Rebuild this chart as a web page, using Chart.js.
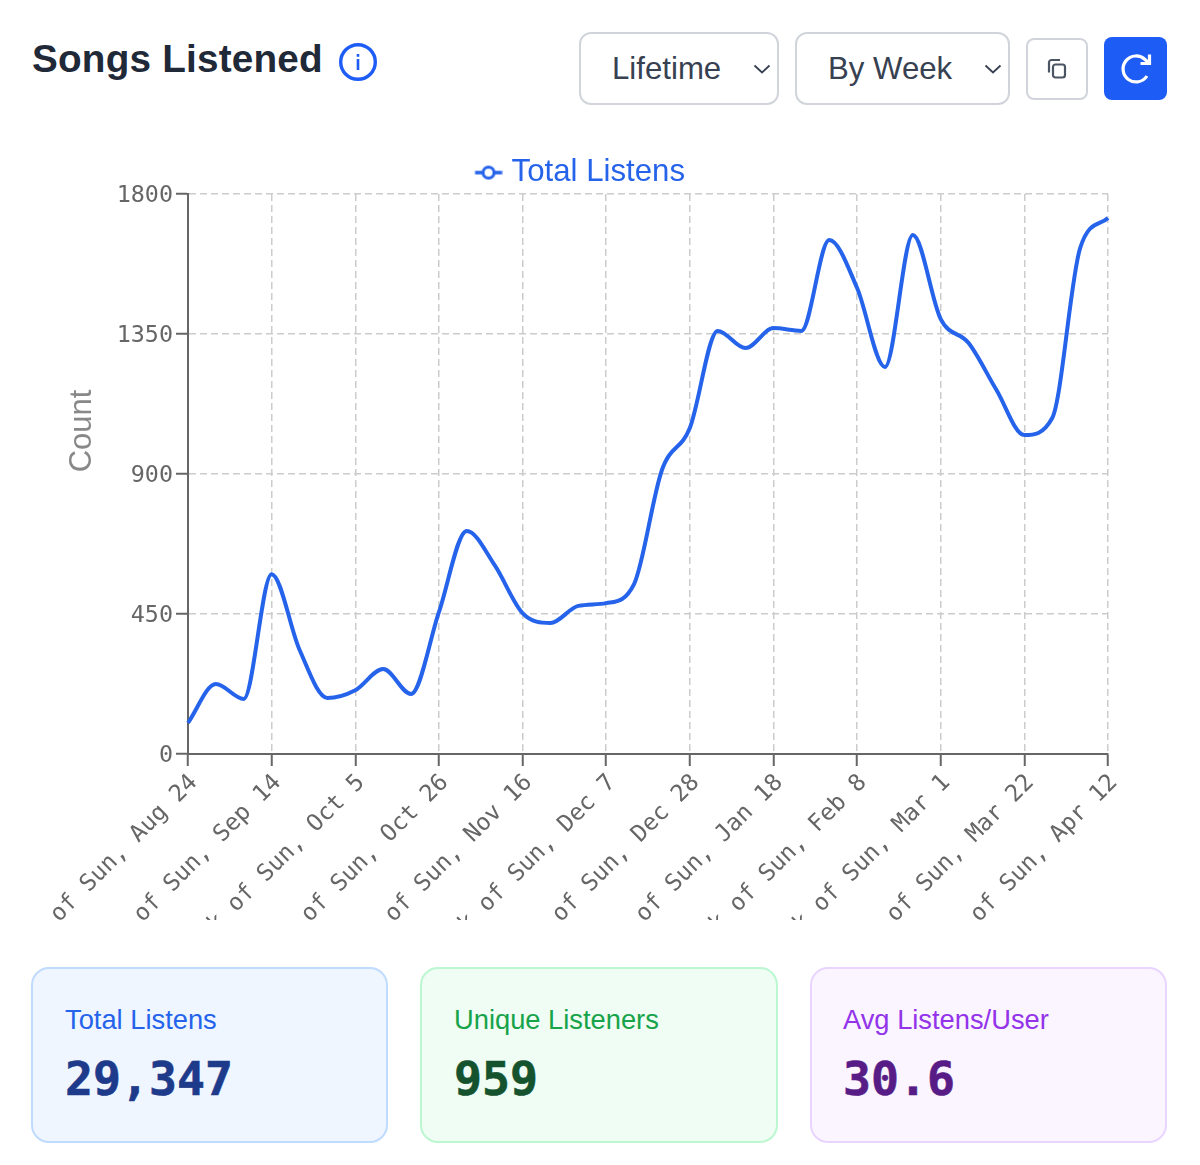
<!DOCTYPE html>
<html>
<head>
<meta charset="utf-8">
<title>Songs Listened</title>
<script src="https://cdn.jsdelivr.net/npm/chart.js@4"></script>
<style>
    html, body { margin: 0; padding: 0; background: #fff; }
    body { position: relative; width: 1200px; height: 1165px; overflow: hidden; font-family: "Liberation Sans", sans-serif; }
    .title { position: absolute; left: 32px; top: 36px; margin: 0; font-size: 38.7px; line-height: 46px; font-weight: 700; color: #1f2937; letter-spacing: 0.2px; }
    .info { position: absolute; left: 339px; top: 42px; }
    select {
        position: absolute; box-sizing: border-box; top: 32px; height: 73px; margin: 0;
        border: 2px solid #d1d5db; border-radius: 12px; padding: 0 0 0 31px;
        font-family: "Liberation Sans", sans-serif; font-size: 31.2px; color: #374151;
        -webkit-appearance: none; appearance: none; outline: none;
        background: #fff url("data:image/svg+xml,%3Csvg xmlns='http://www.w3.org/2000/svg' width='18' height='10'%3E%3Cpath d='M1.5 1.5 L9 8.5 L16.5 1.5' fill='none' stroke='%23374151' stroke-width='1.8'/%3E%3C/svg%3E") no-repeat right 6px center;
    }
    #range-select { left: 579px; width: 200px; }
    #group-select { left: 795px; width: 215px; }
    .icon-btn { position: absolute; box-sizing: border-box; top: 38px; height: 62px; border-radius: 8px; display: flex; align-items: center; justify-content: center; }
    #copy-btn { left: 1026px; width: 62px; border: 2px solid #d1d5db; background: #fff; }
    #refresh-btn { left: 1104px; top: 37px; width: 63px; height: 63px; background: #1d5cf5; }
    #chart-box { position: absolute; left: 0; top: 153px; width: 1160px; height: 767px; }
    .card { position: absolute; box-sizing: border-box; top: 967px; width: 357px; height: 176px; border: 2px solid; border-radius: 18px; }
    .card .label { position: absolute; left: 32px; top: 35px; font-size: 27.3px; line-height: 32px; white-space: nowrap; }
    .card .value { position: absolute; left: 32px; top: 82px; font-family: "DejaVu Sans Mono", monospace; font-size: 46.5px; line-height: 56px; font-weight: 700; white-space: nowrap; -webkit-text-stroke: 0.6px; }
    #card-total { left: 31px; background: #eff6ff; border-color: #bfdbfe; }
    #card-total .label { color: #2563eb; } #card-total .value { color: #1e3a8a; }
    #card-unique { left: 420px; width: 358px; background: #f0fdf4; border-color: #bbf7d0; }
    #card-unique .label { color: #16a34a; } #card-unique .value { color: #14532d; }
    #card-avg { left: 810px; background: #faf5ff; border-color: #e9d5ff; }
    #card-avg .label { left: 31px; color: #9333ea; } #card-avg .value { left: 31px; color: #581c87; }
</style>
</head>
<body>
    <h1 class="title">Songs Listened</h1>
    <svg class="info" width="38" height="40" viewBox="0 0 38 40">
        <circle cx="19" cy="20" r="17.3" fill="none" stroke="#1d5cf5" stroke-width="3.4"/>
        <rect x="17.7" y="17" width="2.6" height="11" fill="#1d5cf5"/>
        <rect x="17.7" y="12" width="2.6" height="2.8" fill="#1d5cf5"/>
    </svg>

    <select id="range-select"><option>Lifetime</option></select>
    <select id="group-select"><option>By Week</option></select>

    <div class="icon-btn" id="copy-btn">
        <svg width="24" height="24" viewBox="0 0 24 24" fill="none" stroke="#4b5563" stroke-width="2.2">
            <rect x="8" y="7.5" width="12" height="13" rx="2.5"/>
            <path d="M4 15.5 V5.5 A2.5 2.5 0 0 1 6.5 3 H15"/>
        </svg>
    </div>
    <div class="icon-btn" id="refresh-btn">
        <svg width="36" height="36" viewBox="0 0 36 36" fill="none" stroke="#fff" stroke-width="3.2">
            <path d="M29 25 A13 13 0 1 1 27 8.5 L31 12"/>
            <path d="M31.5 3.5 V12.5 H22.5"/>
        </svg>
    </div>

    <div id="chart-box"><canvas id="listens-chart"></canvas></div>

    <div class="card" id="card-total"><div class="label">Total Listens</div><div class="value">29,347</div></div>
    <div class="card" id="card-unique"><div class="label">Unique Listeners</div><div class="value">959</div></div>
    <div class="card" id="card-avg"><div class="label">Avg Listens/User</div><div class="value">30.6</div></div>

<script>
const weekLabels = [
    'Week of Sun, Aug 24', 'Week of Sun, Aug 31', 'Week of Sun, Sep 7', 'Week of Sun, Sep 14',
    'Week of Sun, Sep 21', 'Week of Sun, Sep 28', 'Week of Sun, Oct 5', 'Week of Sun, Oct 12',
    'Week of Sun, Oct 19', 'Week of Sun, Oct 26', 'Week of Sun, Nov 2', 'Week of Sun, Nov 9',
    'Week of Sun, Nov 16', 'Week of Sun, Nov 23', 'Week of Sun, Nov 30', 'Week of Sun, Dec 7',
    'Week of Sun, Dec 14', 'Week of Sun, Dec 21', 'Week of Sun, Dec 28', 'Week of Sun, Jan 4',
    'Week of Sun, Jan 11', 'Week of Sun, Jan 18', 'Week of Sun, Jan 25', 'Week of Sun, Feb 1',
    'Week of Sun, Feb 8', 'Week of Sun, Feb 15', 'Week of Sun, Feb 22', 'Week of Sun, Mar 1',
    'Week of Sun, Mar 8', 'Week of Sun, Mar 15', 'Week of Sun, Mar 22', 'Week of Sun, Mar 29',
    'Week of Sun, Apr 5', 'Week of Sun, Apr 12'
];
const totalListens = [
    100, 225, 177, 578, 335, 180, 205, 273, 193, 456, 717, 607,
    453, 421, 476, 485, 546, 913, 1048, 1360, 1305, 1369, 1360, 1652,
    1498, 1244, 1668, 1398, 1321, 1170, 1025, 1080, 1626, 1723
];

const blue = '#2563eb';
const axisGrey = '#666';
const gridGrey = '#ccc';
const monoFont = { family: '"DejaVu Sans Mono", monospace', size: 23.4 };

// legend icon: short line with an open circle on it.
// chart.js centres the image on the legend box, so the drawing sits right of the canvas middle
function makeLegendIcon() {
    const icon = document.createElement('canvas');
    icon.width = 34;
    icon.height = 18;
    const c = icon.getContext('2d');
    c.strokeStyle = blue;
    c.lineWidth = 3.5;
    c.beginPath();
    c.moveTo(6.5, 9);
    c.lineTo(33.5, 9);
    c.stroke();
    c.fillStyle = '#fff';
    c.lineWidth = 3;
    c.beginPath();
    c.arc(20, 9, 5.5, 0, Math.PI * 2);
    c.fill();
    c.stroke();
    return icon;
}

// the plot starts right under the legend text, so cut the legend box height
const legendHeightPlugin = {
    id: 'legendHeight',
    beforeInit: function(chart) {
        const originalFit = chart.legend.fit;
        chart.legend.fit = function() {
            originalFit.call(this);
            this.height = 41;
        };
    }
};

Chart.defaults.font.family = '"Liberation Sans", sans-serif';

new Chart(document.getElementById('listens-chart'), {
    type: 'line',
    plugins: [legendHeightPlugin],
    data: {
        labels: weekLabels,
        datasets: [{
            label: 'Total Listens',
            data: totalListens,
            borderColor: blue,
            borderWidth: 4,
            pointRadius: 0,
            fill: false,
            cubicInterpolationMode: 'monotone'
        }]
    },
    options: {
        responsive: true,
        maintainAspectRatio: false,
        animation: false,
        plugins: {
            tooltip: { enabled: false },
            legend: {
                position: 'top',
                labels: {
                    color: blue,
                    font: { size: 31.2 },
                    usePointStyle: true,
                    pointStyle: makeLegendIcon(),
                    pointStyleWidth: 21,
                    boxHeight: 18,
                    padding: 4
                }
            }
        },
        scales: {
            x: {
                grid: { color: gridGrey, lineWidth: 1.5, tickColor: axisGrey, tickWidth: 2, tickLength: 12 },
                border: { color: axisGrey, width: 2, dash: [7, 4] },
                ticks: { color: axisGrey, font: monoFont, autoSkip: false, minRotation: 45, maxRotation: 45, padding: 3, labelOffset: 6 },
                // a tick every third week
                afterBuildTicks: function(scale) {
                    scale.ticks = scale.ticks.filter((tick, i) => i % 3 === 0);
                },
                afterFit: function(scale) {
                    scale.height = 166;
                    scale.paddingLeft = 0;
                    scale.paddingRight = 52;
                }
            },
            y: {
                min: 0,
                max: 1800,
                // leading spaces lift the title above the axis middle, as in the original
                title: { display: true, text: '\u00a0'.repeat(10) + 'Count', color: '#888', font: { size: 31 }, padding: { top: 64, bottom: 0 } },
                grid: { color: gridGrey, lineWidth: 1.5, tickColor: axisGrey, tickWidth: 2, tickLength: 12 },
                border: { color: axisGrey, width: 2, dash: [7, 4] },
                ticks: {
                    color: axisGrey,
                    font: monoFont,
                    stepSize: 450,
                    padding: 3,
                    labelOffset: 2,
                    callback: function(value) {
                        return String(value);
                    }
                },
                afterFit: function(scale) {
                    scale.width = 188;
                    scale.paddingTop = 0;
                    scale.paddingBottom = 0;
                }
            }
        }
    }
});
</script>
</body>
</html>
